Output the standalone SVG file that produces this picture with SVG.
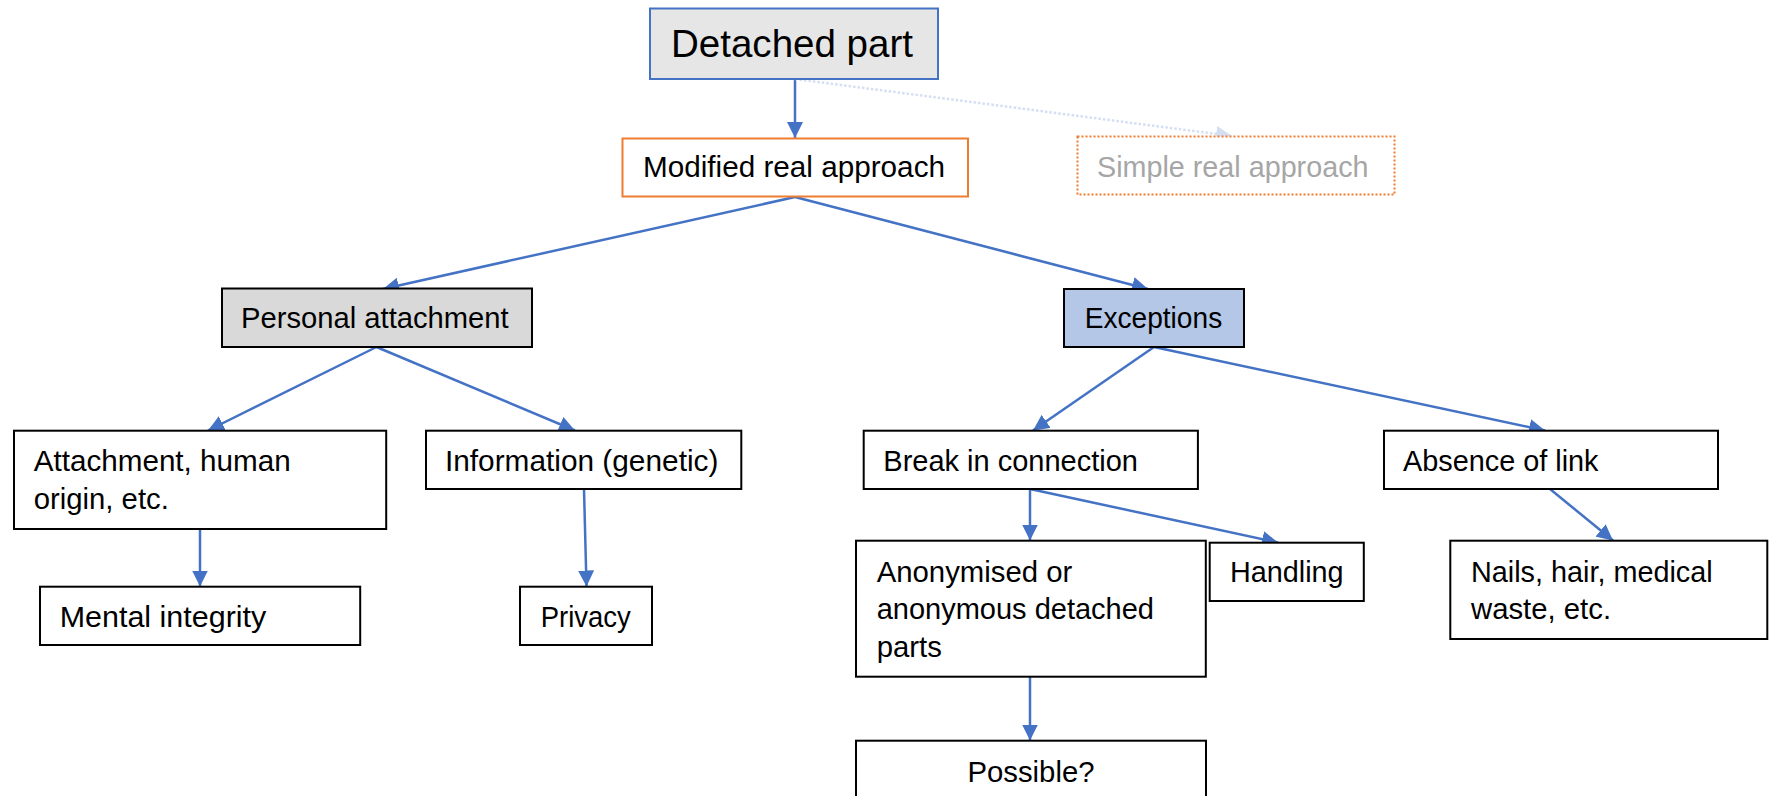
<svg xmlns="http://www.w3.org/2000/svg" width="1769" height="796" viewBox="0 0 1769 796">
<style>
text{font-family:"Liberation Sans",Arial,sans-serif;font-size:29.3px;fill:#000}
.box{fill:#fff;stroke:#000;stroke-width:2}
.c{fill:none;stroke:#4472c4;stroke-width:2.5}
</style>
<defs>
<marker id="ah" markerUnits="userSpaceOnUse" markerWidth="17" markerHeight="16" refX="16" refY="8" orient="auto">
<path d="M0,0 L16,8 L0,16 z" fill="#4472c4"/>
</marker>
<marker id="ahl" markerUnits="userSpaceOnUse" markerWidth="17" markerHeight="16" refX="16" refY="8" orient="auto">
<path d="M0,0 L16,8 L0,16 z" fill="#d4dff2"/>
</marker>
</defs>
<rect width="1769" height="796" fill="#fff"/>
<g id="connectors">
<line class="c" x1="795" y1="79" x2="795" y2="138" marker-end="url(#ah)"/>
<line x1="795" y1="79" x2="1232" y2="136" stroke="#d4dff2" stroke-width="2.5" stroke-dasharray="2.5 2" marker-end="url(#ahl)"/>
<line class="c" x1="795" y1="197" x2="383" y2="289" marker-end="url(#ah)"/>
<line class="c" x1="795" y1="197" x2="1148" y2="289" marker-end="url(#ah)"/>
<line class="c" x1="376.5" y1="347" x2="208" y2="430.5" marker-end="url(#ah)"/>
<line class="c" x1="376.5" y1="347" x2="575" y2="430.5" marker-end="url(#ah)"/>
<line class="c" x1="200" y1="529" x2="200" y2="586.5" marker-end="url(#ah)"/>
<line class="c" x1="584" y1="489" x2="586.5" y2="586.5" marker-end="url(#ah)"/>
<line class="c" x1="1154" y1="347" x2="1033" y2="430.5" marker-end="url(#ah)"/>
<line class="c" x1="1154" y1="347" x2="1545" y2="430.5" marker-end="url(#ah)"/>
<line class="c" x1="1030" y1="489" x2="1030" y2="540.5" marker-end="url(#ah)"/>
<line class="c" x1="1030" y1="489" x2="1278" y2="542.5" marker-end="url(#ah)"/>
<line class="c" x1="1550" y1="489" x2="1613" y2="540.5" marker-end="url(#ah)"/>
<line class="c" x1="1030" y1="677" x2="1030" y2="740.5" marker-end="url(#ah)"/>
</g>
<g id="n-detached">
<rect x="650" y="8.5" width="288" height="70.5" fill="#e7e6e6" stroke="#4472c4" stroke-width="2"/>
<text x="671" y="56.7" style="font-size:38.5px" textLength="242" lengthAdjust="spacingAndGlyphs">Detached part</text>
</g>
<g id="n-modified">
<rect x="622.5" y="138.5" width="345.5" height="58" fill="#fff" stroke="#ed7d31" stroke-width="2"/>
<text x="643" y="176.7" textLength="302" lengthAdjust="spacingAndGlyphs">Modified real approach</text>
</g>
<g id="n-simple">
<rect x="1077.5" y="136.5" width="317" height="58" fill="#fff" stroke="#ed7d31" stroke-width="2" stroke-dasharray="2 2"/>
<text x="1097" y="176.7" style="fill:#a6a6a6" textLength="271.5" lengthAdjust="spacingAndGlyphs">Simple real approach</text>
</g>
<g id="n-personal">
<rect x="222" y="288.5" width="310" height="58.5" fill="#d9d9d9" stroke="#000" stroke-width="2"/>
<text x="241" y="328.3" textLength="267.7" lengthAdjust="spacingAndGlyphs">Personal attachment</text>
</g>
<g id="n-exceptions">
<rect x="1064" y="289" width="180" height="58" fill="#b4c7e7" stroke="#000" stroke-width="2"/>
<text x="1084.7" y="328.3" textLength="137.5" lengthAdjust="spacingAndGlyphs">Exceptions</text>
</g>
<g id="n-attachment">
<rect class="box" x="14" y="430.7" width="372.2" height="98.3"/>
<text x="33.7" y="470.7" textLength="257" lengthAdjust="spacingAndGlyphs">Attachment, human</text>
<text x="33.7" y="508.7">origin, etc.</text>
</g>
<g id="n-information">
<rect class="box" x="426" y="430.7" width="315.3" height="58.3"/>
<text x="444.9" y="470.7" textLength="273.5" lengthAdjust="spacingAndGlyphs">Information (genetic)</text>
</g>
<g id="n-mental">
<rect class="box" x="40" y="586.7" width="320.2" height="58.3"/>
<text x="59.7" y="626.7" textLength="206.6" lengthAdjust="spacingAndGlyphs">Mental integrity</text>
</g>
<g id="n-privacy">
<rect class="box" x="520" y="586.7" width="132" height="58.3"/>
<text x="540.8" y="626.7" textLength="90" lengthAdjust="spacingAndGlyphs">Privacy</text>
</g>
<g id="n-break">
<rect class="box" x="863.7" y="430.7" width="334.2" height="58.3"/>
<text x="883.3" y="470.7" textLength="254.7" lengthAdjust="spacingAndGlyphs">Break in connection</text>
</g>
<g id="n-absence">
<rect class="box" x="1384" y="430.7" width="334" height="58.3"/>
<text x="1403" y="470.7" textLength="195.5" lengthAdjust="spacingAndGlyphs">Absence of link</text>
</g>
<g id="n-anonymised">
<rect class="box" x="856" y="540.7" width="349.8" height="136"/>
<text x="876.7" y="581.7" textLength="195.6" lengthAdjust="spacingAndGlyphs">Anonymised or</text>
<text x="876.7" y="619.3" textLength="277.3" lengthAdjust="spacingAndGlyphs">anonymous detached</text>
<text x="876.7" y="657.3">parts</text>
</g>
<g id="n-handling">
<rect class="box" x="1209.7" y="542.7" width="154.1" height="58.3"/>
<text x="1229.9" y="581.7" textLength="113.7" lengthAdjust="spacingAndGlyphs">Handling</text>
</g>
<g id="n-nails">
<rect class="box" x="1450.3" y="540.7" width="317" height="98.3"/>
<text x="1471" y="581.7" textLength="241.7" lengthAdjust="spacingAndGlyphs">Nails, hair, medical</text>
<text x="1471" y="619.3">waste, etc.</text>
</g>
<g id="n-possible">
<rect class="box" x="856" y="740.7" width="350" height="70"/>
<text x="1031" y="781.7" text-anchor="middle">Possible?</text>
</g>
</svg>
